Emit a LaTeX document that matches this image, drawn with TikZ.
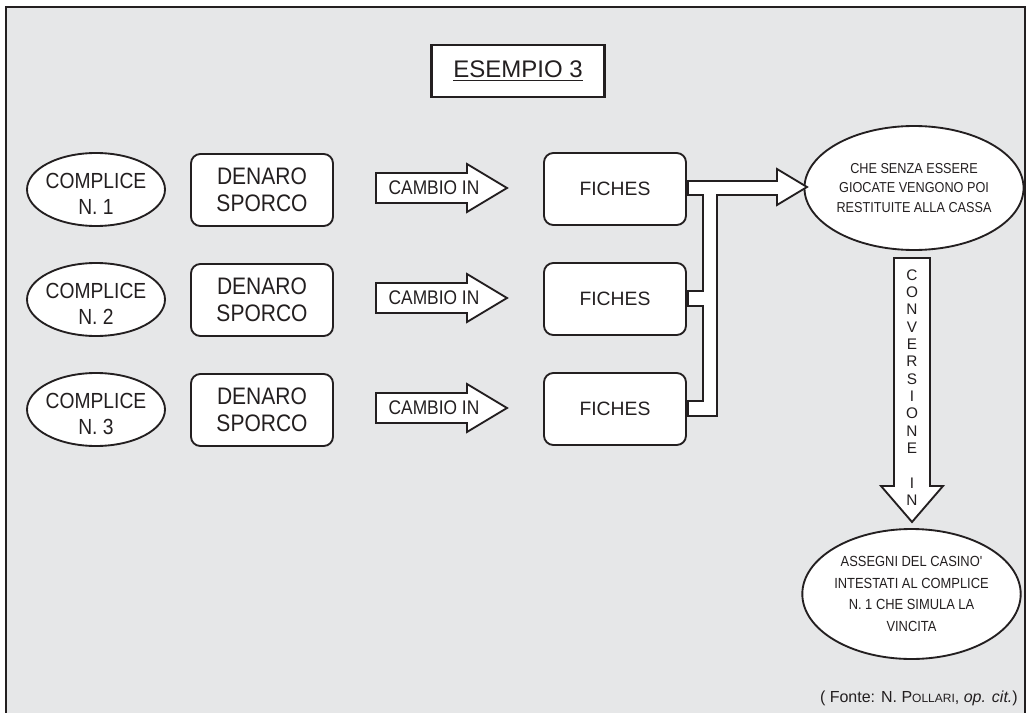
\documentclass[tikz,border=0pt]{standalone}
\usepackage{fontspec}
\setmainfont{Liberation Sans}
\newfontfamily\narrowsans[FakeStretch=0.88]{Liberation Sans}
\usetikzlibrary{shapes.geometric,calc}
\definecolor{panel}{HTML}{E6E7E8}
\definecolor{ink}{HTML}{231F20}

\begin{document}
\begin{tikzpicture}[x=0.75pt,y=-0.75pt,
  every node/.style={text=ink},
  oval/.style={ellipse,draw=ink,line width=1.4pt,fill=white,inner sep=0pt,align=center},
  rbox/.style={rectangle,rounded corners=7pt,draw=ink,line width=1.4pt,fill=white,
    align=center,inner sep=0pt,minimum width=106.5pt,minimum height=54pt},
  fatarrow/.style={draw=ink,line width=1.4pt,fill=white,line join=miter},
  complicefont/.style={font=\narrowsans\fontsize{16.4pt}{19.5pt}\selectfont},
  denarofont/.style={font=\narrowsans\fontsize{17.9pt}{20pt}\selectfont},
  cambiofont/.style={font=\narrowsans\fontsize{14.8pt}{17pt}\selectfont},
  ovalfont/.style={font=\narrowsans\fontsize{10.8pt}{14.6pt}\selectfont},
]
% page and panel
\useasboundingbox (0,0) rectangle (1027,713);
\clip (0,0) rectangle (1027,713);
\fill[white] (0,0) rectangle (1027,713);
\fill[panel] (6,7) rectangle (1025,715);
\draw[ink,line width=1.5pt] (6,716) -- (6,7) -- (1025,7) -- (1025,716);

% title
\node[draw=ink,line width=1.8pt,fill=white,minimum width=129.75pt,minimum height=39pt,
  inner sep=0pt,font=\fontsize{18pt}{20pt}\selectfont] (title) at (518,71) {\underline{ESEMPIO 3}};

% three rows: accomplice, dirty money, exchange arrow, chips
\foreach \r/\y in {1/189,2/299,3/409}{
  \node[oval,minimum width=103.5pt,minimum height=54.75pt] (comp\r) at (96,\y+0.5) {};
  \node[complicefont,align=center,inner sep=0pt] (complabel\r) at ($(comp\r.center)+(0,4)$)
    {COMPLICE\\N. \r};
  \node[rbox,denarofont] (den\r) at (262,\y+1) {DENARO\\SPORCO};
  \draw[fatarrow] (376,\y-16) -- (467,\y-16) -- (467,\y-25) -- (507,\y-1) -- (467,\y+23)
    -- (467,\y+14) -- (376,\y+14) -- cycle;
  \node[cambiofont] (cambio\r) at (434,\y-1) {CAMBIO IN};
  \node[rbox,font=\fontsize{14.5pt}{17pt}\selectfont] (fich\r) at (615,\y) {FICHES};
}

% cashier ellipse and cheque ellipse
\node[oval,ovalfont,minimum width=153pt,minimum height=93pt] (cassa) at (914,188)
  {CHE SENZA ESSERE\\GIOCATE VENGONO POI\\RESTITUITE ALLA CASSA};
\node[oval,font=\narrowsans\fontsize{11pt}{16.3pt}\selectfont,minimum width=148pt,
  minimum height=97.5pt] (assegni) at (911.5,594)
  {ASSEGNI DEL CASINO'\\INTESTATI AL COMPLICE\\N. 1 CHE SIMULA LA\\VINCITA};

% collecting connector from the three chip boxes to the cashier
\draw[fatarrow] (688,181) -- (777,181) -- (777,169) -- (807,187) -- (777,205) -- (777,195)
  -- (717,195) -- (717,416) -- (688,416) -- (688,401) -- (703,401) -- (703,306)
  -- (688,306) -- (688,291) -- (703,291) -- (703,195) -- (688,195) -- cycle;

% conversion arrow
\draw[fatarrow] (894,258) -- (930,258) -- (930,486) -- (943,486) -- (912,522)
  -- (881,486) -- (894,486) -- cycle;
\node[align=center,inner sep=0pt,font=\fontsize{11.5pt}{13pt}\selectfont] (conv) at (912,387.5)
  {C\\O\\N\\V\\E\\R\\S\\I\\O\\N\\E\\[13pt]I\\N};

% source
\node[anchor=east,inner sep=0pt,font=\fontsize{12pt}{14pt}\selectfont] (fonte) at (1018,698)
  {( Fonte: N. P{\fontsize{9pt}{10pt}\selectfont OLLARI}, \textit{op. cit.})};
\end{tikzpicture}
\end{document}
